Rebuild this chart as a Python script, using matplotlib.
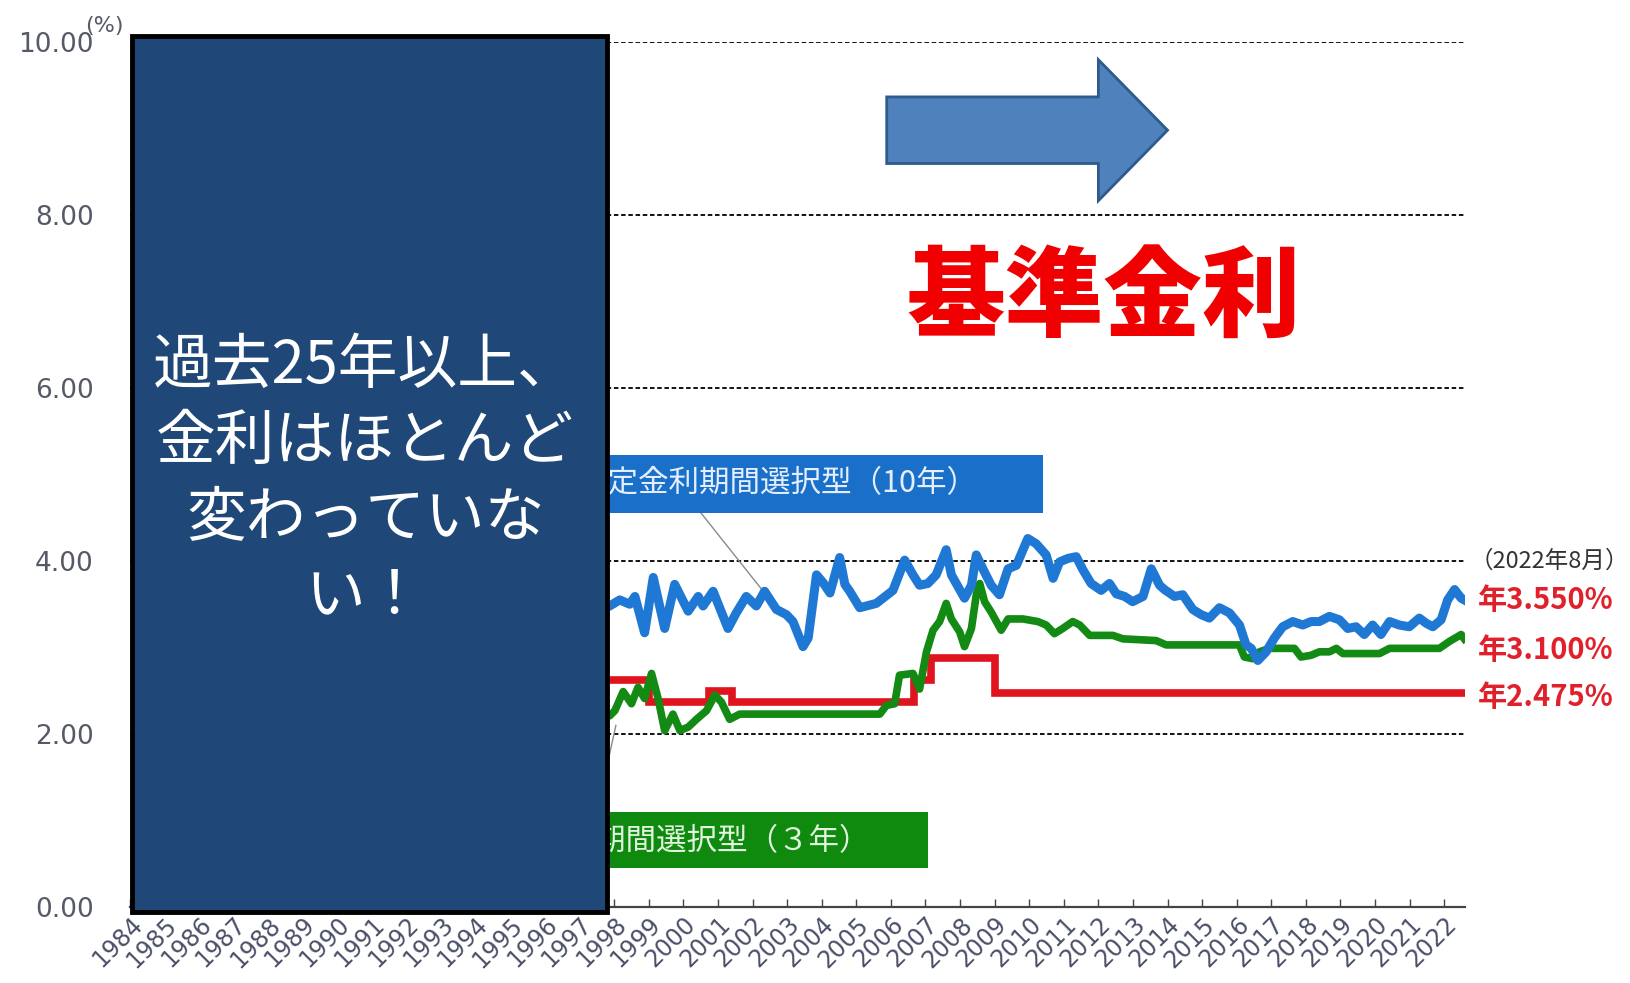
import numpy as np
import matplotlib
matplotlib.use('Agg')
import matplotlib.pyplot as plt
from matplotlib.patches import Rectangle, FancyArrow

plt.rcParams['font.family'] = ['Noto Sans CJK JP', 'DejaVu Sans']

# %% data
years = list(range(1984, 2023))

# 固定金利期間選択型（10年）
blue_x = [1997.70, 1997.87, 1998.16, 1998.45, 1998.60, 1998.88, 1999.13, 1999.46, 1999.75,
          2000.14, 2000.43, 2000.57, 2000.86, 2001.29, 2001.53, 2001.82, 2002.11, 2002.35,
          2002.69, 2002.98, 2003.17, 2003.46, 2003.61, 2003.85, 2004.04, 2004.24, 2004.52,
          2004.67, 2004.81, 2005.10, 2005.58, 2006.06, 2006.40, 2006.64, 2006.83, 2007.07,
          2007.31, 2007.60, 2007.75, 2008.13, 2008.33, 2008.47, 2008.66, 2008.90, 2009.14,
          2009.39, 2009.63, 2009.96, 2010.20, 2010.49, 2010.69, 2010.88, 2011.12, 2011.36,
          2011.55, 2011.79, 2012.08, 2012.32, 2012.52, 2012.76, 2012.99, 2013.29, 2013.53,
          2013.77, 2013.91, 2014.20, 2014.44, 2014.73, 2014.97, 2015.21, 2015.50, 2015.79,
          2016.08, 2016.27, 2016.42, 2016.61, 2016.85, 2017.09, 2017.33, 2017.62, 2017.91,
          2018.15, 2018.39, 2018.68, 2018.97, 2019.21, 2019.45, 2019.69, 2019.93, 2020.17,
          2020.42, 2020.70, 2020.99, 2021.28, 2021.48, 2021.67, 2021.91, 2022.10, 2022.30,
          2022.49, 2022.58]
blue_y = [3.45, 3.48, 3.55, 3.50, 3.59, 3.17, 3.81, 3.22, 3.73,
          3.42, 3.59, 3.48, 3.65, 3.22, 3.40, 3.59, 3.48, 3.65,
          3.44, 3.38, 3.30, 3.01, 3.11, 3.84, 3.75, 3.63, 4.04,
          3.73, 3.65, 3.46, 3.51, 3.66, 4.01, 3.84, 3.72, 3.74,
          3.84, 4.13, 3.84, 3.57, 3.72, 4.07, 3.91, 3.72, 3.61,
          3.91, 3.95, 4.26, 4.20, 4.07, 3.80, 3.99, 4.03, 4.05,
          3.90, 3.74, 3.66, 3.74, 3.62, 3.59, 3.53, 3.59, 3.91,
          3.72, 3.67, 3.59, 3.61, 3.44, 3.38, 3.34, 3.46, 3.40,
          3.26, 3.03, 2.99, 2.85, 2.95, 3.11, 3.24, 3.30, 3.26,
          3.30, 3.30, 3.36, 3.32, 3.22, 3.24, 3.15, 3.26, 3.15,
          3.30, 3.26, 3.24, 3.34, 3.28, 3.24, 3.32, 3.55, 3.67,
          3.57, 3.55]

# 固定金利期間選択型（3年）
green_x = [1997.70, 1997.87, 1998.02, 1998.26, 1998.50, 1998.69, 1998.88, 1999.08, 1999.27,
           1999.46, 1999.70, 1999.90, 2000.14, 2000.38, 2000.67, 2000.91, 2001.10, 2001.34,
           2001.63, 2005.68, 2005.87, 2006.11, 2006.25, 2006.64, 2006.83, 2007.03, 2007.22,
           2007.41, 2007.60, 2007.75, 2007.99, 2008.13, 2008.33, 2008.47, 2008.57, 2008.71,
           2008.90, 2009.19, 2009.39, 2009.82, 2010.25, 2010.49, 2010.73, 2010.97, 2011.26,
           2011.46, 2011.75, 2012.42, 2012.71, 2013.67, 2013.96, 2016.08, 2016.22, 2016.47,
           2016.66, 2016.95, 2017.67, 2017.86, 2018.15, 2018.39, 2018.68, 2018.88, 2019.07,
           2020.13, 2020.42, 2021.86, 2022.15, 2022.49, 2022.58]
green_y = [2.25, 2.21, 2.27, 2.49, 2.35, 2.54, 2.41, 2.70, 2.41,
           2.04, 2.23, 2.04, 2.08, 2.17, 2.27, 2.45, 2.37, 2.17,
           2.23, 2.23, 2.33, 2.35, 2.68, 2.70, 2.52, 2.95, 3.20,
           3.30, 3.51, 3.33, 3.18, 3.01, 3.22, 3.61, 3.74, 3.53,
           3.41, 3.20, 3.33, 3.33, 3.30, 3.26, 3.16, 3.22, 3.30,
           3.26, 3.14, 3.14, 3.10, 3.08, 3.03, 3.03, 2.89, 2.87,
           2.95, 2.99, 2.99, 2.89, 2.91, 2.95, 2.95, 2.99, 2.93,
           2.93, 2.99, 2.99, 3.07, 3.15, 3.10]

# 変動金利 (steps)
red_x = [1997.70, 1999.00, 2000.75, 2001.40, 2006.67, 2007.17, 2009.00, 2022.60]
red_y = [2.625, 2.375, 2.500, 2.375, 2.625, 2.875, 2.475, 2.475]

end_labels = ['年3.550%', '年3.100%', '年2.475%']
end_label_y = [3.55, 2.97, 2.43]

# %%
fig = plt.figure(figsize=(16.31, 9.83), dpi=100)
ax = fig.add_axes([0.0797, 0.0773, 0.8185, 0.8800])

ax.set_xlim(1984, 2022.6)
ax.set_ylim(0, 10)

for s in ['left', 'right', 'top']:
    ax.spines[s].set_visible(False)
ax.spines['bottom'].set_color('#444444')
ax.spines['bottom'].set_linewidth(1.6)

ax.set_yticks([0, 2, 4, 6, 8, 10])
ax.set_yticklabels(['%.2f' % v for v in [0, 2, 4, 6, 8, 10]],
                   family='DejaVu Sans', fontsize=19, color='#555a66')
ax.tick_params(axis='y', length=0, pad=26)
ax.yaxis.grid(True, color='black', linestyle=(0, (2.5, 1.5)), linewidth=1.3)
ax.set_axisbelow(True)

ax.set_xticks(years)
ax.set_xticklabels([str(y) for y in years], rotation=45, ha='right',
                   rotation_mode='anchor', family='DejaVu Sans', fontsize=17,
                   color='#4a5068')
ax.tick_params(axis='x', direction='in', length=6, width=1, color='#444444', pad=4)

ax.text(1982.7, 10.18, '(%)', fontsize=16, color='#555a66', family='DejaVu Sans',
        va='center', ha='left', clip_on=False)

# lines
ax.plot(red_x, red_y, color='#e0141e', lw=5.5, drawstyle='steps-post', zorder=3,
        solid_joinstyle='miter')
ax.plot(green_x, green_y, color='#138a13', lw=5.5, zorder=4)
ax.plot(blue_x, blue_y, color='#1e78d4', lw=6.5, zorder=5)

# labels for series
ax.plot([2000.50, 2002.29], [4.56, 3.66], color='#8a8a8a', lw=1, zorder=2)
ax.plot([1997.5, 1998.05], [1.10, 2.10], color='#8a8a8a', lw=1, zorder=2)
ax.add_patch(Rectangle((1994.0, 4.55), 2010.39 - 1994.0, 0.68, fc='#1a70c8',
                       ec='none', zorder=6))
ax.text(1996.92, 4.89, '固定金利期間選択型（10年）', fontsize=22, color='#e4eeff',
        va='center', ha='left', zorder=7)
ax.add_patch(Rectangle((1992.0, 0.45), 2007.06 - 1992.0, 0.65, fc='#0f8a0f',
                       ec='none', zorder=6))
ax.text(1993.94, 0.76, '固定金利期間選択型（３年）', fontsize=22, color='#e0f4e0',
        va='center', ha='left', zorder=7)

# end values
ax.text(2022.72, 4.0, '（2022年8月）', fontsize=17, color='#333333', va='center',
        ha='left', clip_on=False)
for lab, yy in zip(end_labels, end_label_y):
    ax.text(2022.98, yy, lab, fontsize=21, fontweight='bold', color='#e0202a',
            va='center', ha='left', clip_on=False)

# dark box covering the early years
ax.add_patch(Rectangle((1984.06, -0.06), 1997.79 - 1984.06, 10.13, fc='#1f4778',
                       ec='black', lw=3.5, clip_on=False, zorder=10))
ax.text(1990.8, 4.92, '過去25年以上、\n金利はほとんど\n変わっていな\nい！',
        fontsize=43, color='white', ha='center', va='center', linespacing=1.34,
        multialignment='center', zorder=11)

# arrow and title
ax.add_patch(FancyArrow(2005.88, 8.98, 8.12, 0, width=0.77, head_width=1.63,
                        head_length=2.0, length_includes_head=True, fc='#4f81bd',
                        ec='#2e5a8c', lw=2, zorder=8, clip_on=False))
ax.text(2012.15, 7.02, '基準金利', fontsize=71, fontweight='black', color='#f00000',
        ha='center', va='center', zorder=8)

fig.savefig('out.png', dpi=100)
